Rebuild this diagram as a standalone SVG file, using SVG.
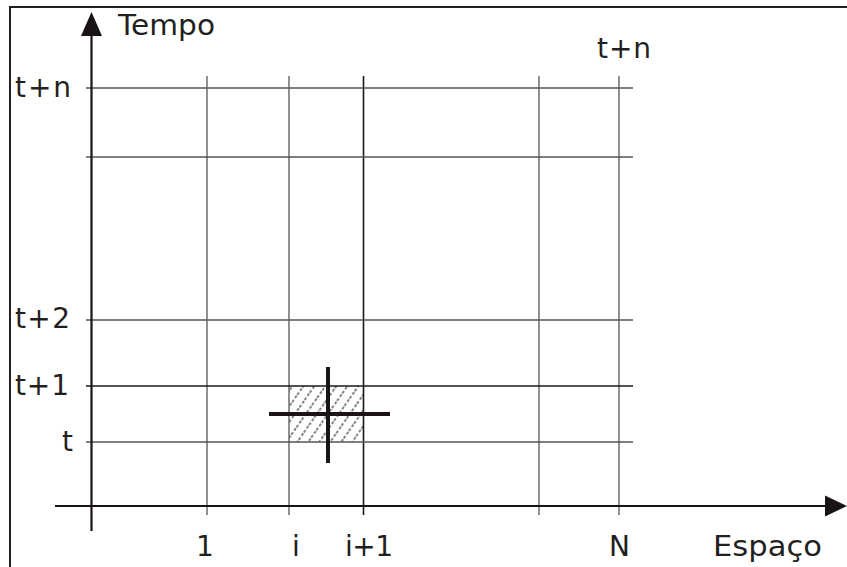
<svg xmlns="http://www.w3.org/2000/svg" width="847" height="567" viewBox="0 0 847 567">
<style>
.grid{stroke:#555;stroke-width:1.3;fill:none}
.gridd{stroke:#1a1a1a;stroke-width:1.6;fill:none}
.axis{stroke:#1a1414;stroke-width:2.2;fill:none}
.head{fill:#1a1414;stroke:none}
.lbl{font-family:"DejaVu Sans","Liberation Sans",sans-serif;font-size:28px;fill:#231f20}
.cross{stroke:#1a1414;stroke-width:4;fill:none}
</style>
<defs>
<pattern id="hatch" patternUnits="userSpaceOnUse" width="9" height="9" patternTransform="rotate(-55)">
<line x1="0" y1="2" x2="9" y2="2" stroke="#888" stroke-width="2" stroke-dasharray="3 2"/>
</pattern>
</defs>
<rect id="frame" x="10" y="7" width="860" height="580" fill="none" stroke="#231f20" stroke-width="2"/>
<g id="cell">
<rect x="289" y="386" width="74" height="56" fill="url(#hatch)"/>
</g>
<g id="connectors">
<line class="grid" x1="207" y1="76" x2="207" y2="515"/>
<line class="grid" x1="289" y1="76" x2="289" y2="515"/>
<line class="gridd" x1="363.5" y1="76" x2="363.5" y2="515"/>
<line class="grid" x1="539" y1="76" x2="539" y2="515"/>
<line class="grid" x1="619" y1="76" x2="619" y2="515"/>
<line class="grid" x1="86" y1="88" x2="633" y2="88"/>
<line class="grid" x1="86" y1="157" x2="633" y2="157"/>
<line class="grid" x1="86" y1="320" x2="633" y2="320"/>
<line class="gridd" x1="86" y1="386" x2="633" y2="386"/>
<line class="grid" x1="86" y1="442" x2="633" y2="442"/>
<line class="axis" x1="91.5" y1="531" x2="91.5" y2="30"/>
<path class="head" d="M91.5,12 L102,36 L81,36 Z"/>
<line class="axis" x1="55" y1="506" x2="830" y2="506"/>
<path class="head" d="M847,506 L825,495.5 L825,516.5 Z"/>
<line class="cross" x1="269" y1="414" x2="390" y2="414"/>
<line class="cross" x1="328" y1="367" x2="328" y2="463"/>
</g>
<g id="labels">
<text class="lbl" x="118" y="35" textLength="97" lengthAdjust="spacingAndGlyphs">Tempo</text>
<text class="lbl" x="15" y="97" textLength="56" lengthAdjust="spacing">t+n</text>
<text class="lbl" x="597" y="58" textLength="54" lengthAdjust="spacing">t+n</text>
<text class="lbl" x="15" y="328" textLength="55" lengthAdjust="spacing">t+2</text>
<text class="lbl" x="15" y="395" textLength="54" lengthAdjust="spacing">t+1</text>
<text class="lbl" x="62" y="451">t</text>
<text class="lbl" x="196" y="556">1</text>
<text class="lbl" x="292" y="556">i</text>
<text class="lbl" x="345" y="556" textLength="48" lengthAdjust="spacing">i+1</text>
<text class="lbl" x="609" y="556">N</text>
<text class="lbl" x="713" y="556" textLength="109" lengthAdjust="spacingAndGlyphs">Espaço</text>
</g>
</svg>
